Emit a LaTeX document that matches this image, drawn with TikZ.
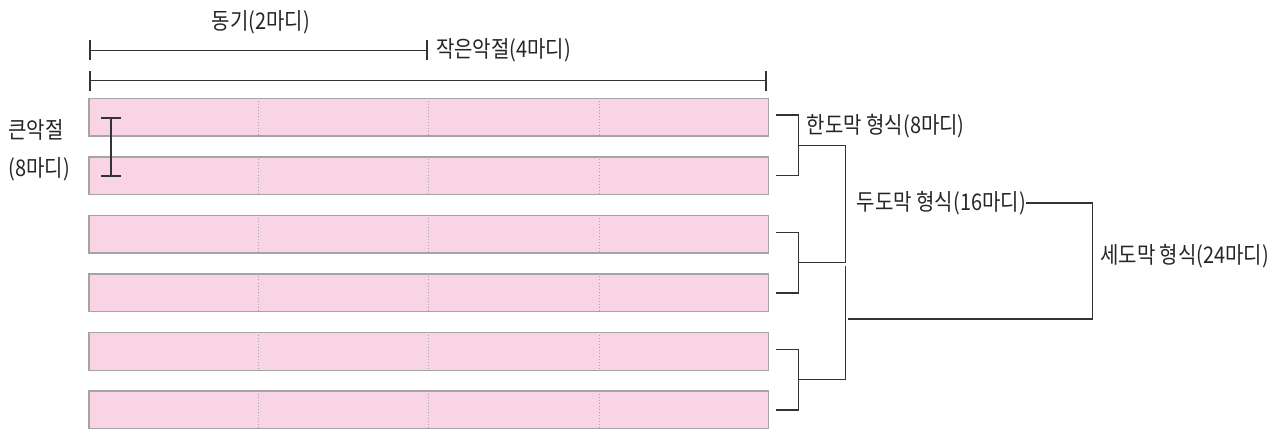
\documentclass[tikz,border=0pt]{standalone}
\usepackage{fontspec}
\setmainfont{Noto Sans CJK KR}[FakeStretch=0.87]
\usepackage{tikz}
\usetikzlibrary{arrows.meta, positioning, calc}
\definecolor{barpink}{RGB}{249, 212, 228}
\definecolor{bargray}{RGB}{165, 165, 165}
\definecolor{linegray}{RGB}{51, 51, 51}

\begin{document}
\begin{tikzpicture}[
    x=0.03cm, y=-0.03cm,
    bar/.style={rectangle, draw=bargray, fill=barpink, line width=1.1pt, minimum width=20.385cm, minimum height=1.13cm, inner sep=0pt},
    divider/.style={draw=bargray, dotted, line width=0.6pt},
    scaleline/.style={draw=linegray, line width=1.1pt, {Bar[width=6mm, line width=1.6pt]}-{Bar[width=6mm, line width=1.6pt]}},
    brace/.style={draw=linegray, line width=1.2pt},
    lbl/.style={font=\fontsize{19.6}{21}\selectfont, inner sep=0pt, text=black!85}
]
\useasboundingbox (0,0) rectangle (1287,430);

% Bars (one per line of 4 measures)
\foreach \i in {1,...,6}{
    \node[bar] (r\i) at (428.8, {117.2+58.55*(\i-1)}) {};
    \foreach \k in {1,2,3}
        \draw[divider] ($(r\i.north west)!\k/4!(r\i.north east)$) -- ($(r\i.south west)!\k/4!(r\i.south east)$);
}

% Scales above the bars
\coordinate (m0) at (89, 50.5);
\coordinate (m1) at (428.3, 50.5);
\coordinate (p0) at (89, 80.7);
\coordinate (p1) at (767, 80.7);
\draw[scaleline] (m0) -- (m1);
\draw[scaleline] (p0) -- (p1);
\node[lbl, anchor=west] (motif) at (211.7, 22) {동기(2마디)};
\node[lbl, right=0.23cm of m1] (phrase) {작은악절(4마디)};

% Big phrase on the left
\node[lbl, anchor=west] (big) at (8.3, 130) {큰악절};
\node[lbl, anchor=west] (bigm) at (8.3, 169) {(8마디)};
\coordinate (i0) at (111, 117);
\coordinate (i1) at (111, 176.7);
\draw[scaleline] (i0) -- (i1);

% Brackets: two bars each
\foreach \a/\b/\n in {1/2/1, 3/4/2, 5/6/3}{
    \coordinate (bt\n) at ($(r\a.east)+(6.5,-2)$);
    \coordinate (bb\n) at ($(r\b.east)+(6.5,0)$);
    \coordinate (bm\n) at ($(bt\n)!0.5!(bb\n)+(22.5,0)$);
    \draw[brace] (bt\n) -- ++(22.5,0) |- (bb\n);
}

% Joins
\coordinate (jx) at (845.7, 0);
\draw[brace] (bm1) -- (bm1 -| jx) -- (bm2 -| jx) -- (bm2);
\draw[brace] ($(bm2 -| jx)+(0,3)$) -- (bm3 -| jx) -- (bm3);

% Form labels
\node[lbl, anchor=west] (one) at (806.7, 126) {한도막 형식(8마디)};
\node[lbl, anchor=west] (two) at (856.7, 203) {두도막 형식(16마디)};
\coordinate (j3) at (848.3, 319);
\coordinate (k3) at (1092.3, 319);
\draw[brace] (j3) -- (k3) |- (two.east);
\node[lbl, anchor=west] (three) at (1100, 256) {세도막 형식(24마디)};

\end{tikzpicture}
\end{document}
